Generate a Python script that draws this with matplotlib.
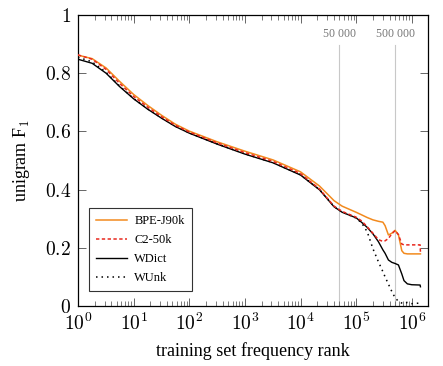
import numpy as np
import matplotlib
matplotlib.use('Agg')
import matplotlib.pyplot as plt
from matplotlib.ticker import FixedLocator, FixedFormatter, LogLocator, NullFormatter

plt.rcParams['font.family'] = ['Liberation Serif', 'DejaVu Serif']
plt.rcParams['mathtext.fontset'] = 'cm'

# rank grid (training set frequency rank)
rank = [1, 1.8, 3.2, 5.6, 10, 18, 32, 56, 100, 320, 1000, 3200, 10000, 22000,
        40000, 56000, 100000, 126000, 158000, 200000, 251000, 302000, 331000,
        380000, 437000, 501000, 575000, 661000, 724000, 832000, 1000000,
        1410000, 1430000]

bpe = [0.862, 0.850, 0.818, 0.772, 0.727, 0.689, 0.655, 0.625, 0.601, 0.564,
       0.532, 0.502, 0.461, 0.412, 0.362, 0.343, 0.322, 0.313, 0.304, 0.296,
       0.291, 0.288, 0.276, 0.244, 0.250, 0.260, 0.245, 0.190, 0.181, 0.179,
       0.179, 0.179, 0.179]
c2 = [0.863, 0.848, 0.813, 0.765, 0.720, 0.683, 0.650, 0.621, 0.598, 0.560,
      0.527, 0.497, 0.455, 0.402, 0.343, 0.325, 0.305, 0.292, 0.272, 0.250,
      0.228, 0.222, 0.224, 0.232, 0.248, 0.259, 0.245, 0.213, 0.210, 0.210,
      0.210, 0.210, 0.185]
wdict = [0.848, 0.834, 0.800, 0.754, 0.712, 0.676, 0.645, 0.617, 0.594, 0.556,
         0.522, 0.492, 0.450, 0.399, 0.341, 0.322, 0.303, 0.287, 0.270, 0.248,
         0.221, 0.193, 0.181, 0.158, 0.150, 0.146, 0.141, 0.110, 0.087, 0.076,
         0.073, 0.072, 0.066]
wunk = [0.855, 0.839, 0.803, 0.756, 0.713, 0.677, 0.646, 0.618, 0.595, 0.557,
        0.523, 0.493, 0.451, 0.400, 0.342, 0.323, 0.302, 0.285, 0.255, 0.197,
        0.152, 0.118, 0.100, 0.075, 0.050, 0.028, 0.016, 0.010, 0.008, 0.012,
        0.008, 0.010, 0.010]

marks = [50000, 500000]
mark_labels = ['50 000', '500 000']

fig = plt.figure(figsize=(4.43, 3.66), dpi=100)
ax = fig.add_axes([0.176, 0.164, 0.790, 0.795])

for m, lab in zip(marks, mark_labels):
    ax.plot([m, m], [0, 0.897], color='#c8c8c8', lw=0.8, zorder=1)
    ax.text(m, 0.935, lab, ha='center', va='center', fontsize=8.5, color='#777777')

ax.plot(rank, bpe, color='#f28a1e', lw=1.1, label='BPE-J90k', zorder=3)
ax.plot(rank, wdict, color='black', lw=1.0, label='WDict', zorder=2)
ax.plot(rank, wunk, color='black', lw=1.1, ls=(0, (1, 2.6)), label='WUnk', zorder=2)
ax.plot(rank, c2, color='#e8281e', lw=1.1, ls=(0, (2.2, 1.6)), label='C2-50k', zorder=4)

ax.set_xscale('log')
ax.set_xlim(1, 1.95e6)
ax.set_ylim(0, 1)

xt = [1, 10, 100, 1000, 10000, 100000, 1000000]
ax.xaxis.set_major_locator(FixedLocator(xt))
ax.xaxis.set_major_formatter(FixedFormatter([r'$10^{%d}$' % i for i in range(7)]))
ax.xaxis.set_minor_locator(LogLocator(base=10, subs=np.arange(2, 10), numticks=20))
ax.xaxis.set_minor_formatter(NullFormatter())

yt = [0, 0.2, 0.4, 0.6, 0.8, 1]
ax.yaxis.set_major_locator(FixedLocator(yt))
ax.yaxis.set_major_formatter(FixedFormatter(['$0$', '$0.2$', '$0.4$', '$0.6$', '$0.8$', '$1$']))

ax.tick_params(which='both', direction='in', top=True, right=True,
               color='#666666', labelsize=14)
ax.tick_params(which='major', length=6, width=0.7)
ax.tick_params(which='minor', length=3.5, width=0.6)
ax.tick_params(axis='x', pad=5)
ax.tick_params(axis='y', pad=5)
for s in ax.spines.values():
    s.set_linewidth(0.9)

ax.set_xlabel('training set frequency rank', fontsize=13, labelpad=6)
ax.set_ylabel(r'unigram F$_1$', fontsize=13, labelpad=9)

h, l = ax.get_legend_handles_labels()
order = [l.index(n) for n in ['BPE-J90k', 'C2-50k', 'WDict', 'WUnk']]
leg = ax.legend([h[i] for i in order], [l[i] for i in order],
                loc='lower left', bbox_to_anchor=(0.031, 0.052), fontsize=9,
                frameon=True, fancybox=False, edgecolor='black',
                handlelength=2.5, borderaxespad=0, borderpad=0.55,
                labelspacing=0.55, handletextpad=0.6)
leg.get_frame().set_linewidth(0.8)

fig.savefig('out.png', dpi=100)
